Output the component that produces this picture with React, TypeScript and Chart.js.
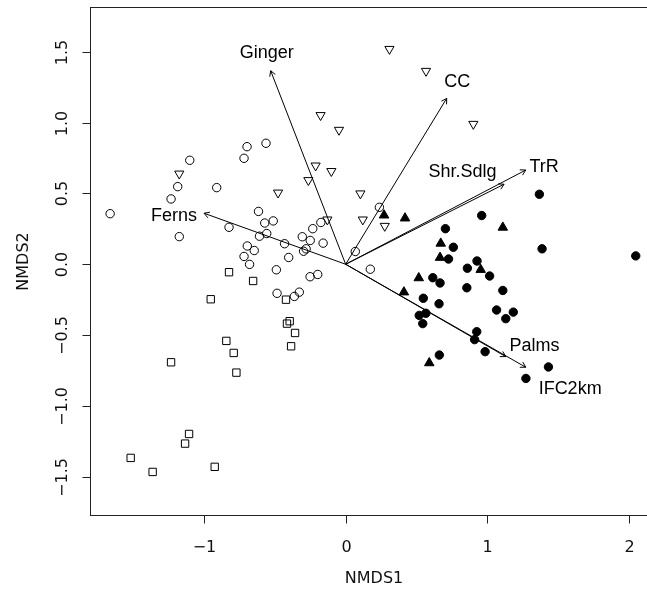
import { useEffect, useRef } from "react";
import { Chart, registerables } from "chart.js";

Chart.register(...registerables);

// Site scores (NMDS1, NMDS2) by group
const openCircleX = [-1.662, -1.1, -1.185, -1.232, -0.91, -0.696, -0.717, -0.562, -1.174, -0.615, -0.823, -0.608, -0.571, -0.511, -0.557, -0.694, -0.645, -0.717, -0.678, -0.431, -0.402, -0.489, -0.306, -0.25, -0.232, -0.175, -0.159, -0.297, -0.279, -0.251, -0.197, -0.484, -0.362, -0.327, 0.068, 0.174, 0.238];
const openCircleY = [0.357, 0.734, 0.548, 0.461, 0.541, 0.83, 0.748, 0.854, 0.195, 0.373, 0.261, 0.198, 0.291, 0.306, 0.217, 0.129, 0.097, 0.055, -0.001, 0.145, 0.048, -0.039, 0.194, 0.168, 0.251, 0.295, 0.149, 0.092, 0.109, -0.088, -0.072, -0.205, -0.227, -0.197, 0.09, -0.035, 0.402];

const downTriangleX = [0.309, 0.567, -0.177, -0.047, 0.901, -0.212, -0.101, -0.263, -0.477, 0.104, -0.129, 0.121, 0.276, -1.174];
const downTriangleY = [1.519, 1.364, 1.052, 0.948, 0.99, 0.696, 0.657, 0.593, 0.505, 0.499, 0.315, 0.315, 0.27, 0.639];

const squareX = [-0.823, -0.653, -0.952, -0.421, -0.395, -0.414, -0.357, -0.385, -0.842, -0.79, -1.232, -0.771, -1.105, -1.133, -1.517, -1.362, -0.924];
const squareY = [-0.056, -0.118, -0.247, -0.25, -0.402, -0.419, -0.485, -0.579, -0.541, -0.626, -0.692, -0.765, -1.198, -1.266, -1.367, -1.466, -1.43];

const filledCircleX = [1.367, 0.96, 0.704, 0.76, 1.386, 2.047, 0.726, 0.927, 0.859, 1.016, 0.615, 0.666, 0.855, 1.109, 0.548, 0.659, 1.065, 1.183, 1.13, 0.519, 0.566, 0.544, 0.925, 0.91, 0.984, 0.661, 1.431, 1.272];
const filledCircleY = [0.494, 0.344, 0.251, 0.12, 0.109, 0.059, 0.037, 0.023, -0.028, -0.083, -0.095, -0.132, -0.166, -0.185, -0.24, -0.279, -0.323, -0.338, -0.384, -0.361, -0.346, -0.419, -0.476, -0.532, -0.617, -0.641, -0.725, -0.806];

const filledTriangleX = [0.271, 0.419, 1.109, 0.671, 0.666, 0.953, 0.516, 0.411, 0.59];
const filledTriangleY = [0.346, 0.325, 0.26, 0.147, 0.047, -0.038, -0.097, -0.197, -0.697];

// Fitted environmental vectors
const vectorNames = ["Ginger", "CC", "TrR", "Shr.Sdlg", "Ferns", "Palms", "IFC2km"];
const vectorX = [-0.529, 0.713, 1.271, 1.118, -0.999, 1.13, 1.271];
const vectorY = [1.366, 1.171, 0.665, 0.565, 0.36, -0.652, -0.727];
const vectorLabelX = [-0.557, 0.788, 1.4, 0.824, -1.211, 1.332, 1.584];
const vectorLabelY = [1.493, 1.289, 0.689, 0.654, 0.341, -0.574, -0.882];

// Axes
const xTicks = [-1, 0, 1, 2];
const yTicks = [-1.5, -1, -0.5, 0, 0.5, 1, 1.5];
const xTitle = "NMDS1";
const yTitle = "NMDS2";

const toPoints = (xs: number[], ys: number[]) => xs.map((v, i) => ({ x: v, y: ys[i] }));
const fmt = (v: number, d: number) => (v < 0 ? "\u2212" : "") + Math.abs(v).toFixed(d);

const AXIS_FONT = '16px "DejaVu Sans", sans-serif';
const LABEL_FONT = '18px "Liberation Sans", Arial, sans-serif';

const basePlotPlugin = {
  id: "basePlot",
  afterDatasetsDraw(chart: any) {
    const { ctx, chartArea: a, scales } = chart;
    const sx = scales.x;
    const sy = scales.y;
    ctx.save();
    ctx.strokeStyle = "#000";
    ctx.fillStyle = "#000";
    ctx.lineWidth = 1;

    // vectors with open arrowheads
    const ox = sx.getPixelForValue(0);
    const oy = sy.getPixelForValue(0);
    const head = 6;
    const ang = Math.PI / 6;
    vectorNames.forEach((_, i) => {
      const ex = sx.getPixelForValue(vectorX[i]);
      const ey = sy.getPixelForValue(vectorY[i]);
      const th = Math.atan2(ey - oy, ex - ox);
      ctx.beginPath();
      ctx.moveTo(ox, oy);
      ctx.lineTo(ex, ey);
      ctx.moveTo(ex - head * Math.cos(th - ang), ey - head * Math.sin(th - ang));
      ctx.lineTo(ex, ey);
      ctx.lineTo(ex - head * Math.cos(th + ang), ey - head * Math.sin(th + ang));
      ctx.stroke();
    });

    ctx.font = LABEL_FONT;
    ctx.textAlign = "center";
    ctx.textBaseline = "middle";
    vectorNames.forEach((n, i) => {
      ctx.fillText(n, sx.getPixelForValue(vectorLabelX[i]), sy.getPixelForValue(vectorLabelY[i]));
    });

    // frame
    const L = Math.round(a.left) + 0.5;
    const T = Math.round(a.top) + 0.5;
    const R = Math.round(a.right) + 0.5;
    const B = Math.round(a.bottom) + 0.5;
    ctx.strokeStyle = "#222";
    ctx.strokeRect(L, T, R - L, B - T);

    // x axis
    ctx.font = AXIS_FONT;
    ctx.fillStyle = "#111";
    xTicks.forEach((v) => {
      const px = Math.round(sx.getPixelForValue(v)) + 0.5;
      ctx.beginPath();
      ctx.moveTo(px, B);
      ctx.lineTo(px, B + 8);
      ctx.stroke();
      ctx.fillText(fmt(v, 0), px, B + 32);
    });
    ctx.fillText(xTitle, (L + R) / 2, B + 63);

    // y axis
    yTicks.forEach((v) => {
      const py = Math.round(sy.getPixelForValue(v)) + 0.5;
      ctx.beginPath();
      ctx.moveTo(L, py);
      ctx.lineTo(L - 8, py);
      ctx.stroke();
      ctx.save();
      ctx.translate(L - 28, py);
      ctx.rotate(-Math.PI / 2);
      ctx.fillText(fmt(v, 1), 0, 0);
      ctx.restore();
    });
    ctx.save();
    ctx.translate(L - 67, (T + B) / 2);
    ctx.rotate(-Math.PI / 2);
    ctx.fillText(yTitle, 0, 0);
    ctx.restore();

    ctx.restore();
  },
};

export default function App() {
  const ref = useRef<HTMLCanvasElement | null>(null);

  useEffect(() => {
    if (!ref.current) return;
    const open = "rgba(0,0,0,0)";
    const chart = new Chart(ref.current, {
      type: "scatter",
      data: {
        datasets: [
          { data: toPoints(openCircleX, openCircleY), pointStyle: "circle", pointRadius: 4.2, backgroundColor: open, borderColor: "#000", borderWidth: 1 },
          { data: toPoints(downTriangleX, downTriangleY), pointStyle: "triangle", rotation: 180, pointRadius: 5.3, backgroundColor: open, borderColor: "#000", borderWidth: 1 },
          { data: toPoints(squareX, squareY), pointStyle: "rect", pointRadius: 5.2, backgroundColor: open, borderColor: "#000", borderWidth: 1 },
          { data: toPoints(filledCircleX, filledCircleY), pointStyle: "circle", pointRadius: 4.2, backgroundColor: "#000", borderColor: "#000", borderWidth: 1 },
          { data: toPoints(filledTriangleX, filledTriangleY), pointStyle: "triangle", pointRadius: 5.5, backgroundColor: "#000", borderColor: "#000", borderWidth: 1 },
        ] as any,
      },
      options: {
        animation: false,
        responsive: false,
        devicePixelRatio: 1,
        events: [],
        layout: { padding: { left: 90, right: 23, top: 7, bottom: 79 } },
        plugins: { legend: { display: false }, tooltip: { enabled: false } },
        scales: {
          x: { type: "linear", min: -1.804, max: 2.197, display: false },
          y: { type: "linear", min: -1.77, max: 1.816, display: false },
        },
      },
      plugins: [basePlotPlugin],
    });
    return () => chart.destroy();
  }, []);

  return (
    <div style={{ position: "fixed", left: 0, top: 0, width: "647px", height: "594px", overflow: "hidden", background: "#fff" }}>
      <canvas ref={ref} width={680} height={594} style={{ display: "block" }} />
    </div>
  );
}
